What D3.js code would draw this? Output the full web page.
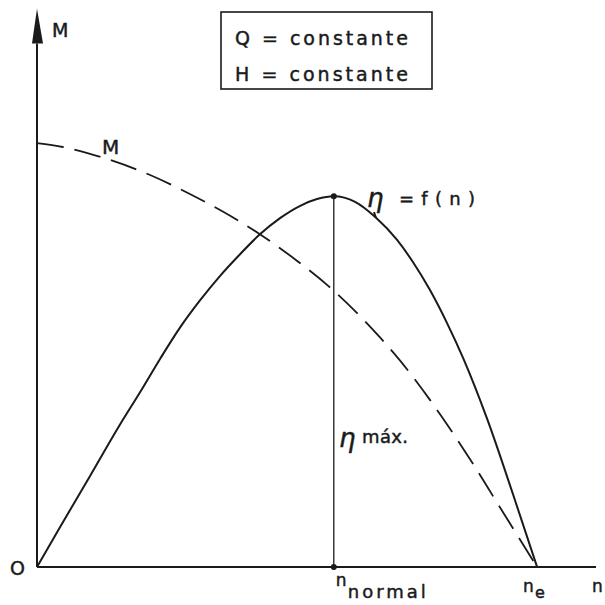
<!DOCTYPE html>
<html>
<head>
<meta charset="utf-8">
<script src="https://cdn.jsdelivr.net/npm/d3@7"></script>
<style>
  html, body { margin: 0; padding: 0; background: #fff; }
  svg { display: block; }
  text { font-family: "DejaVu Sans", sans-serif; fill: #1a1a1a; stroke: #1a1a1a; stroke-width: 0.45px; }
</style>
</head>
<body>
<svg id="chart" width="605" height="605"></svg>
<script>
// Speed n (relative units) at which the efficiency curve is sampled
const etaSpeed = [0, 4.1, 9.5, 14.8, 18.4, 22.0, 25.5, 29.1, 32.7, 36.3, 39.8, 43.4, 47.0, 50.0, 53.0, 56.8, 60.5, 64.3, 67.1, 70.2, 73.2, 76.1, 80.4, 85.0, 89.3];
// Efficiency η = f(n)
const etaValue = [0, 7.1, 16.3, 25.4, 31.2, 37.2, 42.7, 47.6, 52.0, 55.9, 59.4, 62.3, 64.5, 65.7, 66.2, 65.2, 62.4, 58.4, 54.5, 49.4, 43.6, 37.3, 26.4, 13.0, 0];

// Torque M versus n
const torqueSpeed = [0, 4.6, 12.1, 20.2, 27.3, 32.7, 40.0, 46.4, 52.0, 61.25, 66.25, 70.2, 72.5, 77.3, 82.3, 89.3];
const torqueValue = [75.7, 75.0, 73.0, 70.0, 66.6, 63.75, 59.3, 54.7, 50.2, 41.0, 35.1, 29.8, 26.5, 19.3, 11.25, 0];

// Marked speeds and the peak efficiency
const nNormal = 53.0;
const nRunaway = 89.3;
const etaMax = 66.2;

// Axis extents
const xAxisEnd = 100;
const yAxisEnd = 99.5;

const boxLines = ["Q = constante", "H = constante"];

const svg = d3.select("#chart");
const x = d3.scaleLinear().domain([0, 100]).range([37, 597]);
const y = d3.scaleLinear().domain([0, 100]).range([567, 7]);

const ink = "#1a1a1a";

// Axes
svg.append("line")
  .attr("x1", x(0)).attr("y1", y(0))
  .attr("x2", x(xAxisEnd) - 1).attr("y2", y(0))
  .attr("stroke", ink).attr("stroke-width", 2);
svg.append("line")
  .attr("x1", x(0)).attr("y1", y(0))
  .attr("x2", x(0)).attr("y2", y(yAxisEnd - 6))
  .attr("stroke", ink).attr("stroke-width", 2);
// Arrow head on the M axis
svg.append("path")
  .attr("d", `M${x(0)},${y(yAxisEnd) - 1} L${x(0) - 5},${y(yAxisEnd - 6)} L${x(0) + 6},${y(yAxisEnd - 6)} Z`)
  .attr("fill", ink);

// Vertical guide at the normal speed
svg.append("line")
  .attr("x1", x(nNormal)).attr("y1", y(0))
  .attr("x2", x(nNormal)).attr("y2", y(etaMax))
  .attr("stroke", ink).attr("stroke-width", 1.3);

// Curves
const etaLine = d3.line()
  .x((d, i) => x(etaSpeed[i]))
  .y(d => y(d))
  .curve(d3.curveMonotoneX);
svg.append("path")
  .attr("d", etaLine(etaValue))
  .attr("fill", "none").attr("stroke", ink).attr("stroke-width", 2);

const torqueLine = d3.line()
  .x((d, i) => x(torqueSpeed[i]))
  .y(d => y(d))
  .curve(d3.curveMonotoneX);
svg.append("path")
  .attr("d", torqueLine(torqueValue))
  .attr("fill", "none").attr("stroke", ink).attr("stroke-width", 1.8)
  .attr("stroke-dasharray", "27,11");

// Dots at the peak and at n normal
svg.append("circle").attr("cx", x(nNormal)).attr("cy", y(etaMax)).attr("r", 3).attr("fill", ink);
svg.append("circle").attr("cx", x(nNormal)).attr("cy", y(0)).attr("r", 3).attr("fill", ink);

// Conditions box
svg.append("rect")
  .attr("x", 221).attr("y", 12).attr("width", 211).attr("height", 77)
  .attr("fill", "none").attr("stroke", ink).attr("stroke-width", 1.6);
svg.selectAll("text.box").data(boxLines).join("text")
  .attr("class", "box")
  .attr("x", 235).attr("y", (d, i) => 45 + i * 36)
  .attr("font-size", 19)
  .attr("textLength", 173).attr("lengthAdjust", "spacing")
  .text(d => d);

// Axis labels
svg.append("text").attr("x", 52).attr("y", 37).attr("font-size", 19).text("M");
svg.append("text").attr("x", 10).attr("y", 575).attr("font-size", 19).text("O");
svg.append("text").attr("x", 592).attr("y", 592).attr("font-size", 17).text("n");

// Curve labels
svg.append("text").attr("x", 102).attr("y", 154).attr("font-size", 20).text("M");

svg.append("text").attr("x", 367).attr("y", 207).attr("font-size", 26).attr("font-style", "italic").text("η");
svg.append("line")
  .attr("x1", 374).attr("y1", 212).attr("x2", 376).attr("y2", 218)
  .attr("stroke", ink).attr("stroke-width", 2);
svg.append("text").attr("x", 399).attr("y", 205).attr("font-size", 18)
  .attr("textLength", 76).attr("lengthAdjust", "spacing").text("= f ( n )");

svg.append("text").attr("x", 339).attr("y", 447).attr("font-size", 26).attr("font-style", "italic").text("η");
svg.append("text").attr("x", 362).attr("y", 443).attr("font-size", 18)
  .attr("textLength", 46).attr("lengthAdjust", "spacing").text("máx.");

// Speed marks on the n axis
svg.append("text").attr("x", x(nNormal) + 2).attr("y", 586).attr("font-size", 17).text("n");
svg.append("text").attr("x", x(nNormal) + 14).attr("y", 598).attr("font-size", 18)
  .attr("textLength", 78).attr("lengthAdjust", "spacing").text("normal");
svg.append("text").attr("x", x(nRunaway) - 14).attr("y", 592).attr("font-size", 17).text("n");
svg.append("text").attr("x", x(nRunaway) - 2).attr("y", 598).attr("font-size", 16).text("e");
</script>
</body>
</html>
